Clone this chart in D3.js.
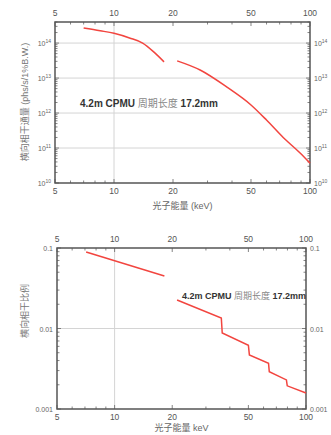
<!DOCTYPE html>
<html>
<head>
<meta charset="utf-8">
<script src="https://cdn.jsdelivr.net/npm/d3@7"></script>
<style>
body { margin: 0; background: #fff; }
svg { display: block; font-family: "Liberation Sans", "Noto Sans CJK SC", sans-serif; }
</style>
</head>
<body>
<svg id="chart" width="331" height="435"></svg>
<script>
// energy ticks (keV)
var energyTicks = [5, 10, 20, 50, 100];
var energyMinor = [6, 7, 8, 9, 30, 40, 60, 70, 80, 90];

// coherent flux, two harmonic segments
var fluxE1 = [7, 8.5, 10, 12, 14, 16, 18];
var fluxV1 = [2.7e14, 2.25e14, 1.9e14, 1.4e14, 1.0e14, 5.5e13, 2.9e13];
var fluxE2 = [21, 27.5, 37.7, 50, 60, 73, 89, 100];
var fluxV2 = [3.1e13, 1.7e13, 5.5e12, 1.7e12, 6.3e11, 2e11, 7.2e10, 3.7e10];
var fluxTicks = [1e10, 1e11, 1e12, 1e13, 1e14];

// coherent fraction
var cohE1 = [7.1, 18.2];
var cohV1 = [0.089, 0.045];
var cohE2 = [21.2, 36.1, 36.5, 50, 50.6, 63.7, 64.3, 79, 79.8, 100];
var cohV2 = [0.0226, 0.0135, 0.0088, 0.0062, 0.0047, 0.0037, 0.0029, 0.0023, 0.00194, 0.00158];
var cohTicks = [0.001, 0.01, 0.1];

var svg = d3.select("#chart");

function drawChart(c) {
    var x = d3.scaleLog().domain([5, 100]).range([c.left, c.right]);
    var y = d3.scaleLog().domain(c.ydomain).range([c.bottom, c.top]);
    var g = svg.append("g");

    // grid
    g.selectAll(".hg").data(c.grid).enter().append("line")
        .attr("x1", c.left).attr("x2", c.right)
        .attr("y1", function(d) { return y(d); }).attr("y2", function(d) { return y(d); })
        .attr("stroke", "#d4d4d4").attr("stroke-width", 1);
    g.append("line")
        .attr("x1", x(10)).attr("x2", x(10))
        .attr("y1", c.top).attr("y2", c.bottom)
        .attr("stroke", "#d4d4d4").attr("stroke-width", 1);

    // minor ticks, inward
    var xt = energyTicks.concat(energyMinor);
    xt.forEach(function(d) {
        var len = energyTicks.indexOf(d) >= 0 ? 4 : 2.5;
        g.append("line").attr("x1", x(d)).attr("x2", x(d))
            .attr("y1", c.bottom).attr("y2", c.bottom - len)
            .attr("stroke", "#666").attr("stroke-width", 0.8);
        g.append("line").attr("x1", x(d)).attr("x2", x(d))
            .attr("y1", c.top).attr("y2", c.top + len)
            .attr("stroke", "#666").attr("stroke-width", 0.8);
    });
    y.ticks().forEach(function(d) {
        if (d < c.ydomain[0] || d > c.ydomain[1]) return;
        var major = c.yticks.indexOf(d) >= 0;
        var len = major ? 4 : 2.5;
        g.append("line").attr("x1", c.right).attr("x2", c.right - len)
            .attr("y1", y(d)).attr("y2", y(d))
            .attr("stroke", "#666").attr("stroke-width", 0.8);
        g.append("line").attr("x1", c.left).attr("x2", c.left + len)
            .attr("y1", y(d)).attr("y2", y(d))
            .attr("stroke", "#666").attr("stroke-width", 0.8);
    });

    // frame
    g.append("rect").attr("x", c.left).attr("y", c.top)
        .attr("width", c.right - c.left).attr("height", c.bottom - c.top)
        .attr("fill", "none").attr("stroke", "#555").attr("stroke-width", 1.5);

    // x tick labels top and bottom
    energyTicks.forEach(function(d) {
        g.append("text").attr("x", x(d)).attr("y", c.top - 6)
            .attr("text-anchor", "middle").attr("font-size", 8.5).attr("fill", "#555").text(d);
        g.append("text").attr("x", x(d)).attr("y", c.bottom + 11)
            .attr("text-anchor", "middle").attr("font-size", 8.5).attr("fill", "#555").text(d);
    });

    // y tick labels both sides
    c.yticks.forEach(function(d) {
        [["end", c.left - 4], ["start", c.right + 4]].forEach(function(s) {
            var t = g.append("text").attr("x", s[1]).attr("y", y(d) + 3)
                .attr("text-anchor", s[0]).attr("font-size", 7).attr("fill", "#666");
            if (c.power) {
                t.append("tspan").text("10");
                t.append("tspan").attr("dy", -3).attr("font-size", 5).text(Math.round(Math.log10(d)));
            } else {
                t.text(String(d));
            }
        });
    });

    // curves
    var line = d3.line().x(function(d) { return x(d[0]); }).y(function(d) { return y(d[1]); });
    if (c.smooth) line.curve(d3.curveMonotoneX);
    c.series.forEach(function(s) {
        g.append("path").datum(d3.zip(s[0], s[1])).attr("d", line)
            .attr("fill", "none").attr("stroke", "#f2453f").attr("stroke-width", 1.5);
    });

    // annotation
    var a = g.append("text").attr("x", c.noteX).attr("y", c.noteY)
        .attr("font-size", c.noteSize).attr("fill", "#333");
    a.append("tspan").attr("font-weight", "bold").text("4.2m CPMU ");
    a.append("tspan").attr("fill", "#888").text("周期长度 ");
    a.append("tspan").attr("font-weight", "bold").text("17.2mm");

    // axis titles
    g.append("text").attr("x", (c.left + c.right) / 2).attr("y", c.xtitleY)
        .attr("text-anchor", "middle").attr("font-size", 9).attr("fill", "#666")
        .text(c.xtitle);
    g.append("text")
        .attr("transform", "translate(" + c.ytitleX + "," + c.ytitleY + ") rotate(-90)")
        .attr("text-anchor", "middle").attr("font-size", 9).attr("fill", "#777")
        .text(c.ytitle);
}

drawChart({
    left: 55, right: 310, top: 22, bottom: 183,
    ydomain: [1e10, 4e14], yticks: fluxTicks, grid: fluxTicks.slice(1), power: true, smooth: true,
    series: [[fluxE1, fluxV1], [fluxE2, fluxV2]],
    noteX: 80, noteY: 107, noteSize: 10,
    xtitle: "光子能量 (keV)", xtitleY: 209,
    ytitle: "横向相干通量 (phs/s/1%B.W.)", ytitleX: 28, ytitleY: 102
});

drawChart({
    left: 57, right: 306, top: 248, bottom: 409,
    ydomain: [0.001, 0.1], yticks: cohTicks, grid: [0.01], power: false, smooth: false,
    series: [[cohE1, cohV1], [cohE2, cohV2]],
    noteX: 182, noteY: 299, noteSize: 9,
    xtitle: "光子能量 keV", xtitleY: 431,
    ytitle: "横向相干比例", ytitleX: 28, ytitleY: 311
});
</script>
</body>
</html>
